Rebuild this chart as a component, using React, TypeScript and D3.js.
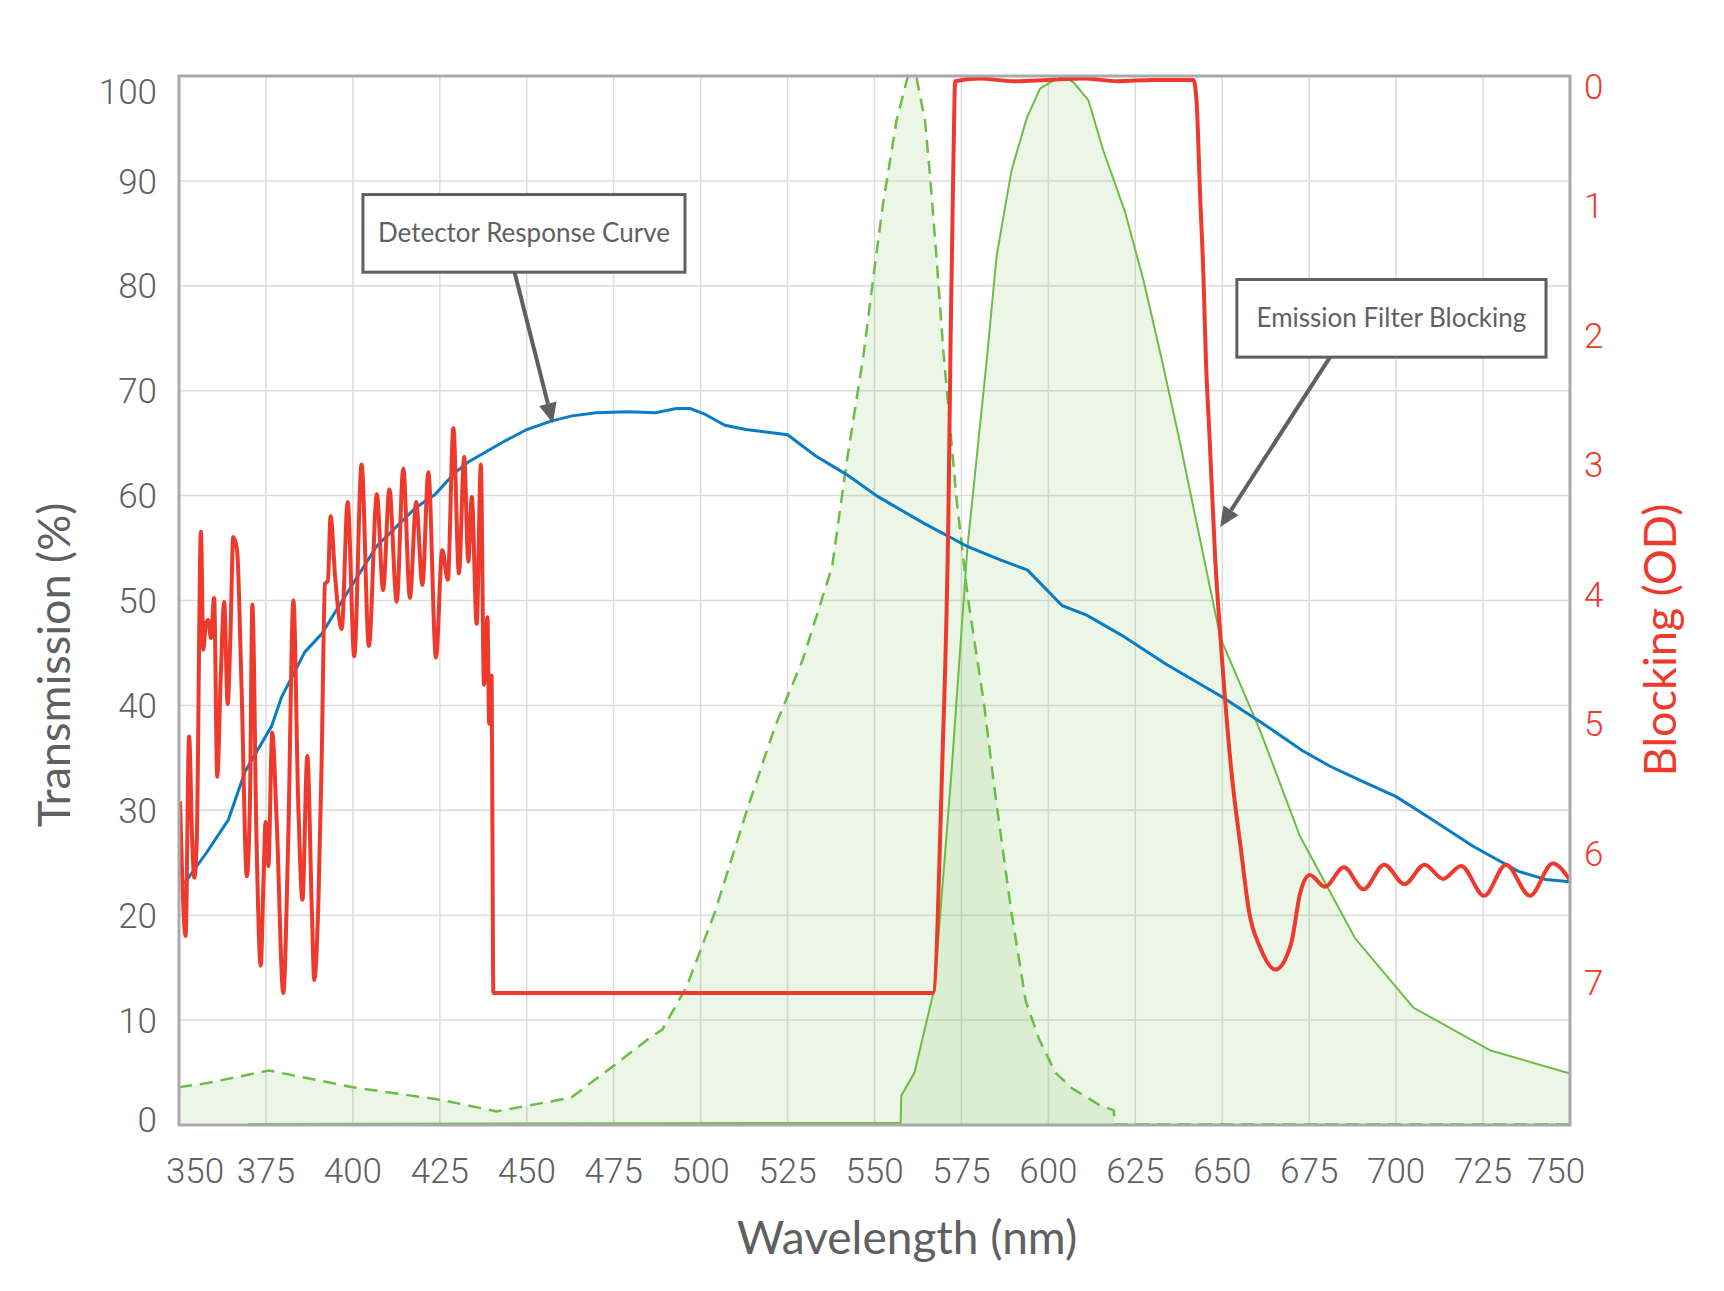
import React from "react";
import * as d3 from "d3";

// ---------- data ----------
const xTicks = [350, 375, 400, 425, 450, 475, 500, 525, 550, 575, 600, 625, 650, 675, 700, 725, 750];
const yTicks = [0, 10, 20, 30, 40, 50, 60, 70, 80, 90, 100];
const odTicks = [0, 1, 2, 3, 4, 5, 6, 7];

// Detector response curve (Transmission %)
const blueNm = [351.5, 358, 364.2, 369, 376.6, 379.5, 386.2, 391, 396.8, 406.9, 417.9, 423.6, 429.4, 433.2, 443.7, 450, 457, 463, 470, 479, 487, 493, 497, 501, 507, 513, 525, 533, 542, 551, 564, 577, 586, 594, 604, 611, 621, 634, 650, 662, 673, 681, 690, 700, 710, 722, 735, 743, 750];
const blueT = [23.0, 26.0, 29.1, 33.7, 38.0, 40.8, 45.1, 46.8, 49.9, 55.2, 58.8, 60.1, 62.2, 63.2, 65.2, 66.3, 67.1, 67.6, 67.9, 68.0, 67.9, 68.3, 68.3, 67.8, 66.7, 66.3, 65.8, 63.8, 62.0, 59.9, 57.4, 55.1, 53.9, 52.9, 49.5, 48.6, 46.7, 43.9, 40.8, 38.2, 35.7, 34.2, 32.8, 31.3, 29.2, 26.6, 24.2, 23.4, 23.2];

// Excitation (dashed green, Transmission %)
const exNm = [350, 358.2, 375.8, 400, 425.3, 441.3, 462.7, 474.8, 485.3, 489, 496, 504, 513.5, 521.4, 529.3, 537.8, 542, 546.8, 549.7, 552.5, 556.3, 559.6, 562.1, 564.5, 566, 567.9, 569.8, 573.5, 576.7, 581.5, 584.6, 589.4, 593.5, 597.3, 602, 606.8, 614.7, 618.8, 619.1, 750];
const exT = [3.6, 4.0, 5.2, 3.6, 2.4, 1.3, 2.6, 5.6, 8.3, 9.1, 13.2, 20.2, 30.2, 38, 44.3, 53.2, 63.2, 73.3, 80.9, 87.9, 95.7, 100, 99.8, 95.8, 90.4, 82.4, 73.8, 60, 50.6, 40.1, 31.8, 20.2, 11.8, 8.2, 5.0, 3.5, 1.9, 1.4, 0.08, 0.08];

// Emission (solid green, Transmission %)
const emNm = [370, 557.5, 557.7, 561.5, 567.2, 572, 576.7, 582.3, 585.1, 589.4, 593.8, 597.6, 600.5, 604.3, 607.2, 611.5, 615.8, 622, 627.3, 632.6, 637.7, 649.5, 661, 672.4, 688.2, 704.9, 727.2, 750, 750];
const emT = [0.1, 0.2, 2.8, 5.0, 13, 33, 55, 73, 82.8, 91, 96, 98.8, 99.4, 100, 99.4, 97.7, 92.9, 87.1, 80.6, 73, 65.3, 46.4, 37.5, 27.5, 17.8, 11.2, 7.1, 4.9, 0];

// Emission filter blocking (Optical density)
const redNm = [350.3, 351.9, 352.9, 353.8, 354.4, 355.1, 356.3, 357.0, 357.7, 358.4, 359.2, 360.1, 361.0, 362.0, 363.0, 364.0, 364.8, 365.6, 366.7, 368.0, 369.5, 370.4, 371.1, 372.3, 373.5, 374.3, 374.9, 375.7, 376.8, 378.1, 380.0, 381.4, 382.9, 384.3, 385.5, 386.9, 388.2, 388.9, 390.1, 391.0, 392.0, 392.8, 393.6, 394.9, 396.8, 398.5, 400.4, 402.5, 404.6, 406.9, 408.7, 410.5, 412.6, 414.5, 416.4, 418.2, 420.0, 421.7, 423.9, 425.7, 427.3, 428.9, 430.5, 432.0, 433.2, 434.2, 435.6, 436.8, 437.7, 438.7, 439.2, 439.9, 440.1, 440.4, 566.8, 569.5, 571.3, 571.9, 572.7, 573.2, 580, 590, 600, 610, 620, 630, 641.7, 642.6, 643.6, 644.6, 645.3, 646.3, 648, 649.5, 652.6, 655.5, 657.7, 660.9, 665.3, 669.8, 672.4, 675.2, 679.5, 685.0, 690.6, 696.6, 702.4, 708.2, 713.5, 718.7, 725.3, 731.6, 738.5, 745.0, 750.0];
const redOD = [5.6, 6.64, 5.10, 5.91, 6.19, 5.91, 3.52, 4.43, 4.23, 4.20, 4.34, 4.03, 5.41, 4.64, 4.06, 4.85, 4.31, 3.56, 3.66, 4.73, 6.18, 5.62, 4.08, 5.91, 6.87, 6.21, 5.76, 6.10, 5.07, 5.76, 7.08, 5.91, 4.05, 5.62, 6.36, 5.25, 6.44, 6.98, 6.36, 5.32, 3.92, 3.90, 3.40, 3.87, 4.27, 3.29, 4.48, 3.00, 4.40, 3.23, 3.97, 3.19, 4.06, 3.03, 4.03, 3.29, 3.93, 3.06, 4.49, 3.66, 3.89, 2.72, 3.84, 2.94, 3.75, 3.25, 4.23, 3.00, 4.70, 4.18, 5.00, 4.63, 5.62, 7.08, 7.08, 5.3, 3.3, 2.0, 0.65, 0.04, 0.02, 0.04, 0.03, 0.02, 0.04, 0.03, 0.03, 0.19, 0.9, 1.55, 2.19, 2.76, 3.74, 4.34, 5.36, 6.0, 6.45, 6.73, 6.9, 6.7, 6.31, 6.17, 6.26, 6.11, 6.28, 6.09, 6.24, 6.09, 6.20, 6.10, 6.33, 6.09, 6.33, 6.08, 6.21];

// Annotations (data coordinates)
const noteDetector = { text: "Detector Response Curve", x0: 402.9, x1: 495.5, y0: 81.3, y1: 88.7, fromNm: 446.5, fromT: 81.3, toNm: 457.5, toT: 66.9 };
const noteBlocking = { text: "Emission Filter Blocking", x0: 654.2, x1: 743.1, y0: 73.2, y1: 80.6, fromNm: 681, fromT: 73.2, toNm: 649.4, toT: 57.0 };

// ---------- styling ----------
const W = 1724;
const H = 1291;
const plot = { left: 179, right: 1570, top: 76, bottom: 1125 };
const GRAY = "#5f6062";
const RED = "#ee3a2d";
const BLUE = "#0a7cc4";
const GREEN = "#6cbd45";
const TICK_FONT = "Roboto, 'Noto Sans', sans-serif";
const TITLE_FONT = "Lato, 'Open Sans', sans-serif";

export default function App() {
  const x = d3.scaleLinear().domain([350, 750]).range([plot.left, plot.right]);
  const yT = d3.scaleLinear().domain([0, 100]).range([plot.bottom, plot.top]);
  const yOD = d3.scaleLinear().domain([0, 8.1]).range([plot.top, plot.bottom]);

  const blue = blueNm.map((n, i) => [n, blueT[i]] as [number, number]);
  const ex = exNm.map((n, i) => [n, exT[i]] as [number, number]);
  const em = emNm.map((n, i) => [n, emT[i]] as [number, number]);
  const red = redNm.map((n, i) => [n, redOD[i]] as [number, number]);

  const lineT = d3.line<[number, number]>().x((d) => x(d[0])).y((d) => yT(d[1]));
  const areaT = d3
    .area<[number, number]>()
    .x((d) => x(d[0]))
    .y0(yT(0))
    .y1((d) => yT(d[1]));
  const lineOD = d3
    .line<[number, number]>()
    .x((d) => x(d[0]))
    .y((d) => yOD(d[1]))
    .curve(d3.curveMonotoneX);

  const arrow = (n: typeof noteDetector, id: string) => {
    const x1 = x(n.fromNm), y1 = yT(n.fromT), x2 = x(n.toNm), y2 = yT(n.toT);
    const ang = Math.atan2(y2 - y1, x2 - x1);
    const L = 20, Wd = 9;
    const bx = x2 - L * Math.cos(ang), by = y2 - L * Math.sin(ang);
    const p1 = [bx + Wd * Math.sin(ang), by - Wd * Math.cos(ang)];
    const p2 = [bx - Wd * Math.sin(ang), by + Wd * Math.cos(ang)];
    return (
      <g key={id}>
        <rect x={x(n.x0)} y={yT(n.y1)} width={x(n.x1) - x(n.x0)} height={yT(n.y0) - yT(n.y1)} fill="white" stroke={GRAY} strokeWidth={3} />
        <text x={(x(n.x0) + x(n.x1)) / 2} y={(yT(n.y0) + yT(n.y1)) / 2} dy="0.35em" textAnchor="middle" fontFamily={TITLE_FONT} fontSize={26} fill={GRAY}>
          {n.text}
        </text>
        <line x1={x1} y1={y1} x2={bx} y2={by} stroke={GRAY} strokeWidth={4} />
        <polygon points={`${x2},${y2} ${p1[0]},${p1[1]} ${p2[0]},${p2[1]}`} fill={GRAY} />
      </g>
    );
  };

  return (
    <svg width={W} height={H} style={{ position: "absolute", left: 0, top: 0, background: "white" }}>
      <rect width={W} height={H} fill="white" />
      {/* grid */}
      <g stroke="#dcdcdc" strokeWidth={1.5}>
        {xTicks.map((t) => (
          <line key={"gx" + t} x1={x(t)} x2={x(t)} y1={plot.top} y2={plot.bottom} />
        ))}
        {yTicks.map((t) => (
          <line key={"gy" + t} x1={plot.left} x2={plot.right} y1={yT(t)} y2={yT(t)} />
        ))}
      </g>
      {/* fills */}
      <path d={areaT(ex) || ""} fill={GREEN} fillOpacity={0.13} />
      <path d={areaT(em) || ""} fill={GREEN} fillOpacity={0.13} />
      {/* green lines */}
      <path d={lineT(ex) || ""} fill="none" stroke={GREEN} strokeWidth={2.5} strokeDasharray="13 8" />
      <path d={lineT(em) || ""} fill="none" stroke={GREEN} strokeWidth={2} />
      {/* blue detector */}
      <path d={lineT(blue) || ""} fill="none" stroke={BLUE} strokeWidth={3} />
      {/* red blocking */}
      <path d={lineOD(red) || ""} fill="none" stroke={RED} strokeWidth={4} strokeLinejoin="round" />
      {/* frame */}
      <rect x={plot.left} y={plot.top} width={plot.right - plot.left} height={plot.bottom - plot.top} fill="none" stroke="#a7a9ac" strokeWidth={3} />
      {/* x tick labels */}
      {xTicks.map((t) => (
        <text key={"xl" + t} x={Math.min(Math.max(x(t), 195), 1556)} y={1183} textAnchor="middle" fontFamily={TICK_FONT} fontWeight={300} fontSize={35} fill={GRAY}>
          {t}
        </text>
      ))}
      {/* y tick labels */}
      {yTicks.map((t) => (
        <text key={"yl" + t} x={157} y={Math.min(Math.max(yT(t), 91), 1119)} dy="0.36em" textAnchor="end" fontFamily={TICK_FONT} fontWeight={300} fontSize={35} fill={GRAY}>
          {t}
        </text>
      ))}
      {/* OD tick labels */}
      {odTicks.map((t) => (
        <text key={"od" + t} x={1584} y={Math.max(yOD(t), 86)} dy="0.36em" textAnchor="start" fontFamily={TICK_FONT} fontWeight={300} fontSize={35} fill={RED}>
          {t}
        </text>
      ))}
      {/* axis titles */}
      <text x={907} y={1254} textAnchor="middle" fontFamily={TITLE_FONT} fontSize={46} fill={GRAY}>
        Wavelength (nm)
      </text>
      <text transform="translate(70,665) rotate(-90)" textAnchor="middle" fontFamily={TITLE_FONT} fontSize={45} fill={GRAY}>
        Transmission (%)
      </text>
      <text transform="translate(1676,640) rotate(-90)" textAnchor="middle" fontFamily={TITLE_FONT} fontSize={45} fill={RED}>
        Blocking (OD)
      </text>
      {/* annotations */}
      {arrow(noteDetector, "a1")}
      {arrow(noteBlocking, "a2")}
    </svg>
  );
}
